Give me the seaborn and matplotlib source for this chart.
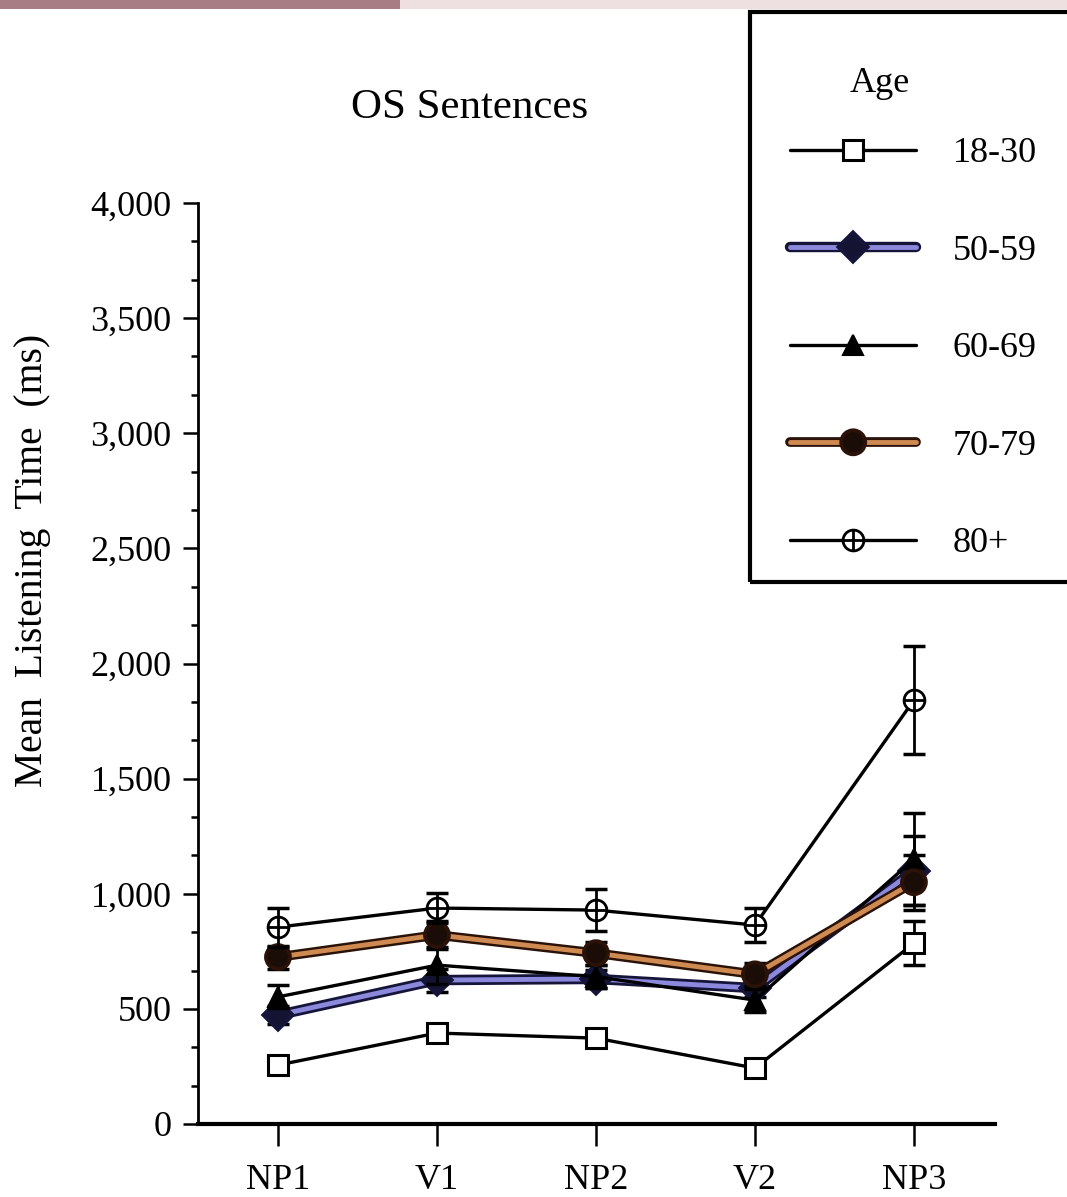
import numpy as np
import pandas as pd
import matplotlib
matplotlib.use("Agg")
import matplotlib.pyplot as plt
import matplotlib.patheffects as pe
from matplotlib.lines import Line2D
from matplotlib.path import Path
from matplotlib.patches import Rectangle
from matplotlib.ticker import MultipleLocator, FuncFormatter
import seaborn as sns

# ---- data -----------------------------------------------------------------
regions = ["NP1", "V1", "NP2", "V2", "NP3"]
age_groups = ["18-30", "50-59", "60-69", "70-79", "80+"]

mean_18_30 = [256, 395, 373, 243, 785]
mean_50_59 = [473, 625, 630, 590, 1100]
mean_60_69 = [552, 690, 640, 538, 1150]
mean_70_79 = [725, 821, 742, 650, 1050]
mean_80_up = [855, 938, 929, 864, 1841]

se_18_30 = [25, 25, 25, 25, 95]
se_50_59 = [40, 50, 40, 40, 150]
se_60_69 = [50, 80, 50, 50, 200]
se_70_79 = [50, 60, 50, 50, 120]
se_80_up = [85, 65, 90, 75, 235]

means = [mean_18_30, mean_50_59, mean_60_69, mean_70_79, mean_80_up]
errors = [se_18_30, se_50_59, se_60_69, se_70_79, se_80_up]

region_pos = np.arange(len(regions))
df = pd.DataFrame({
    "pos": np.tile(region_pos, len(age_groups)),
    "region": regions * len(age_groups),
    "age": np.repeat(age_groups, len(regions)),
    "ms": np.concatenate(means),
    "se": np.concatenate(errors),
})

# ---- styles ---------------------------------------------------------------
circle_plus = Path.make_compound_path(
    Path.unit_circle(),
    Path([(-1.0, 0.0), (1.0, 0.0)]),
    Path([(0.0, -1.0), (0.0, 1.0)]),
)

styles = {
    "18-30": dict(color="black", lw=2.4, marker="s", ms=14, mfc="white",
                  mec="black", mew=2.2, pe=None),
    "50-59": dict(color="#8c88dc", lw=3.5, marker="D", ms=10, mfc="#141432",
                  mec="#141432", mew=1.5,
                  pe=[pe.Stroke(linewidth=7.5, foreground="#15153a"), pe.Normal()]),
    "60-69": dict(color="black", lw=2.4, marker="^", ms=15, mfc="black",
                  mec="black", mew=1.5, pe=None),
    "70-79": dict(color="#cf8a52", lw=3.5, marker="o", ms=13, mfc="#1a0c06",
                  mec="#1a0c06", mew=1.5,
                  pe=[pe.Stroke(linewidth=7.0, foreground="#2a1208"), pe.Normal()]),
    "80+": dict(color="black", lw=2.4, marker=circle_plus, ms=15, mfc="white",
                mec="black", mew=2.0, pe=None),
}

# ---- figure ---------------------------------------------------------------
sns.set_theme(style="ticks")
plt.rcParams["font.family"] = ["Liberation Serif", "DejaVu Serif"]
plt.rcParams["axes.edgecolor"] = "black"
plt.rcParams["text.color"] = "black"
plt.rcParams["xtick.color"] = "black"
plt.rcParams["ytick.color"] = "black"

W, H = 1067, 1197
fig = plt.figure(figsize=(W / 100, H / 100), dpi=100)
fig.patch.set_facecolor("white")
ax = fig.add_axes([198 / W, 73 / H, 797 / W, 921 / H])

# scanned page edge along the top
fig.patches.append(Rectangle((0, 1 - 9 / H), 1, 9 / H, transform=fig.transFigure,
                             facecolor="#eedfe0", edgecolor="none", zorder=0))
fig.patches.append(Rectangle((0, 1 - 9 / H), 400 / W, 9 / H, transform=fig.transFigure,
                             facecolor="#a97d84", edgecolor="none", zorder=0))

handles = []
for i, g in enumerate(age_groups):
    st = styles[g]
    sub = df[df["age"] == g]
    ax.errorbar(sub["pos"], sub["ms"], yerr=sub["se"], fmt="none", ecolor="black",
                elinewidth=2.0, capsize=8, capthick=2.5, zorder=2 + i)
    sns.lineplot(data=sub, x="pos", y="ms", ax=ax, color=st["color"], lw=st["lw"],
                 marker=st["marker"], markersize=st["ms"], markerfacecolor=st["mfc"],
                 markeredgecolor=st["mec"], markeredgewidth=st["mew"],
                 errorbar=None, legend=False, zorder=3 + i,
                 path_effects=st["pe"])
    handles.append(Line2D([], [], color=st["color"], lw=st["lw"], marker=st["marker"],
                          markersize=st["ms"], markerfacecolor=st["mfc"],
                          markeredgecolor=st["mec"], markeredgewidth=st["mew"],
                          path_effects=st["pe"], label=g))

# ---- axes -----------------------------------------------------------------
ax.set_xlim(-0.503, 4.51)
ax.set_ylim(0, 4000)
ax.set_xticks(region_pos)
ax.set_xticklabels(regions)
ax.yaxis.set_major_locator(MultipleLocator(500))
ax.yaxis.set_minor_locator(MultipleLocator(500 / 3))
ax.yaxis.set_major_formatter(FuncFormatter(lambda v, p: f"{v:,.0f}"))
ax.set_xlabel("")
ax.set_ylabel("")

ax.spines[["top", "right"]].set_visible(False)
ax.spines["left"].set_linewidth(2.0)
ax.spines["bottom"].set_linewidth(3.0)

ax.tick_params(axis="y", which="major", direction="out", length=11, width=1.8,
               labelsize=26, pad=8)
ax.tick_params(axis="y", which="minor", direction="out", length=5, width=1.8, left=True)
ax.tick_params(axis="x", which="major", direction="out", length=16, width=1.8,
               labelsize=26, pad=13)

fig.text(33 / W, 1 - 560 / H, "Mean  Listening  Time  (ms)", rotation=90,
         ha="center", va="center", fontsize=28.5)
fig.text(470 / W, 1 - 108 / H, "OS Sentences", ha="center", va="center", fontsize=31)

# legend: boxed key with its heading
fig.patches.append(Rectangle((750 / W, 1 - 582 / H), 360 / W, 570 / H,
                             transform=fig.transFigure, facecolor="none",
                             edgecolor="black", linewidth=3.0, zorder=1))
fig.text(880 / W, 1 - 83 / H, "Age", ha="center", va="center", fontsize=26, zorder=3)
leg = ax.legend(handles=handles, loc="upper left",
                bbox_to_anchor=(790 / W, 1 - 137 / H), bbox_transform=fig.transFigure,
                borderaxespad=0, borderpad=0, fontsize=26, frameon=False,
                handlelength=3.5, handletextpad=1.0, labelspacing=1.78)
leg.set_zorder(5)

fig.savefig("out.png", dpi=100, facecolor="white")
